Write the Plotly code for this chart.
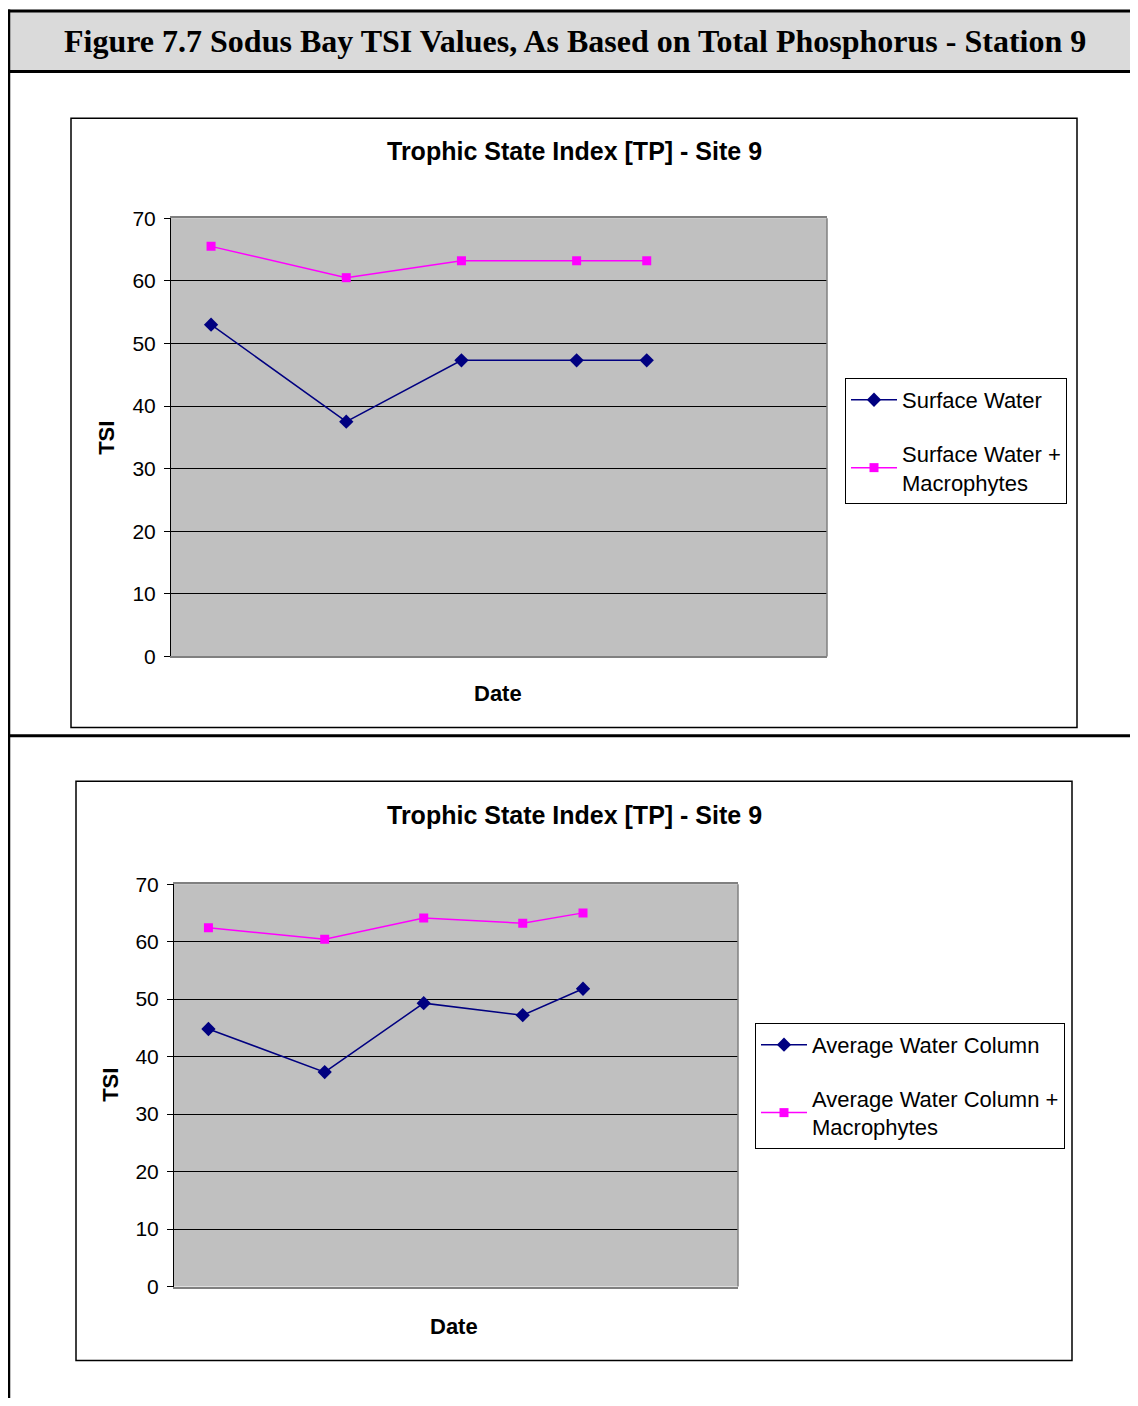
import plotly.graph_objects as go

# the page body has an 8px margin, so the figure is made to fit inside it
PAGE_W, PAGE_H = 1138, 1406
OFF = 8
W, H = PAGE_W - 2 * OFF, PAGE_H - 2 * OFF
# vertical placement correction measured from the rendered page
Y_OFF, Y_SCALE = 18.5, 0.985

# sample dates as day numbers (x axis has no tick labels in the original)
days = [8, 35, 58, 81, 95]

# chart 1 - surface water
surface = [53.0, 37.5, 47.3, 47.3, 47.3]
surface_macro = [65.5, 60.5, 63.2, 63.2, 63.2]

# chart 2 - average water column
avg_col = [44.8, 37.3, 49.3, 47.2, 51.8]
avg_col_macro = [62.4, 60.4, 64.1, 63.2, 65.0]

y_ticks = [0, 10, 20, 30, 40, 50, 60, 70]

NAVY = '#000080'
MAGENTA = '#FF00FF'
SANS = 'Liberation Sans, Arial, sans-serif'


# page pixel -> paper coordinate
def px_x(x):
    return (x - OFF) / W


def px_y(y):
    return 1 - ((y - Y_OFF) / Y_SCALE) / H


fig = go.Figure()

fig.add_trace(go.Scatter(x=days, y=surface, name='Surface Water',
                         mode='lines+markers', xaxis='x', yaxis='y',
                         line=dict(color=NAVY, width=1.5),
                         marker=dict(symbol='diamond', size=11, color=NAVY),
                         legend='legend', legendgroup='a'))
fig.add_trace(go.Scatter(x=days, y=surface_macro, name='Surface Water +<br>Macrophytes',
                         mode='lines+markers', xaxis='x', yaxis='y',
                         line=dict(color=MAGENTA, width=1.5),
                         marker=dict(symbol='square', size=9, color=MAGENTA),
                         legend='legend', legendgroup='b'))
fig.add_trace(go.Scatter(x=days, y=avg_col, name='Average Water Column',
                         mode='lines+markers', xaxis='x2', yaxis='y2',
                         line=dict(color=NAVY, width=1.5),
                         marker=dict(symbol='diamond', size=11, color=NAVY),
                         legend='legend2', legendgroup='c'))
fig.add_trace(go.Scatter(x=days, y=avg_col_macro, name='Average Water Column +<br>Macrophytes',
                         mode='lines+markers', xaxis='x2', yaxis='y2',
                         line=dict(color=MAGENTA, width=1.5),
                         marker=dict(symbol='square', size=9, color=MAGENTA),
                         legend='legend2', legendgroup='d'))

xax = dict(range=[0, 131], showticklabels=False, ticks='', showgrid=False,
           zeroline=False, showline=True, linecolor='#808080', linewidth=1.5,
           mirror=True, fixedrange=True)
yax = dict(range=[0, 70], tickvals=y_ticks, ticks='outside', ticklen=6,
           tickcolor='black', showgrid=True, gridcolor='black', gridwidth=1,
           zeroline=False, showline=True, linecolor='black', linewidth=1,
           tickfont=dict(family=SANS, size=21, color='black'),
           ticklabelstandoff=4, fixedrange=True)

# plot areas (pixel boxes from the original)
p1 = (171, 217, 827, 656)
p2 = (174, 884, 738, 1287)

legend_style = dict(xanchor='left', yanchor='top', bgcolor='white',
                    bordercolor='black', borderwidth=1,
                    font=dict(family=SANS, size=22, color='black'),
                    tracegroupgap=22, itemwidth=46)

fig.update_layout(
    width=W, height=H,
    margin=dict(l=0, r=0, t=0, b=0),
    paper_bgcolor='white', plot_bgcolor='#C0C0C0',
    showlegend=True,
    xaxis=dict(xax, domain=[px_x(p1[0]), px_x(p1[2])], anchor='y'),
    yaxis=dict(yax, domain=[px_y(p1[3]), px_y(p1[1])], anchor='x'),
    xaxis2=dict(xax, domain=[px_x(p2[0]), px_x(p2[2])], anchor='y2'),
    yaxis2=dict(yax, domain=[px_y(p2[3]), px_y(p2[1])], anchor='x2'),
    legend=dict(legend_style, x=px_x(845), y=px_y(377)),
    legend2=dict(legend_style, x=px_x(755), y=px_y(1023)),
)

shapes = []
# header band (top edge kept inside the visible page area)
shapes.append(dict(type='rect', xref='paper', yref='paper',
                   x0=px_x(7), x1=px_x(1145), y0=px_y(70), y1=px_y(9.5),
                   fillcolor='#DADADA', line=dict(color='black', width=3),
                   layer='below'))
# left page rule and separator
shapes.append(dict(type='line', xref='paper', yref='paper',
                   x0=px_x(8.5), x1=px_x(8.5), y0=px_y(1415), y1=px_y(8),
                   line=dict(color='black', width=3.5)))
shapes.append(dict(type='line', xref='paper', yref='paper',
                   x0=px_x(7), x1=px_x(1145), y0=px_y(735.5), y1=px_y(735.5),
                   line=dict(color='black', width=3)))
# chart boxes
shapes.append(dict(type='rect', xref='paper', yref='paper',
                   x0=px_x(71), x1=px_x(1077), y0=px_y(727), y1=px_y(117),
                   line=dict(color='black', width=1.5), layer='below'))
shapes.append(dict(type='rect', xref='paper', yref='paper',
                   x0=px_x(76), x1=px_x(1072), y0=px_y(1361), y1=px_y(781),
                   line=dict(color='black', width=1.5), layer='below'))
# grey right edge of each plot area
for xr, yr in (('x', 'y'), ('x2', 'y2')):
    shapes.append(dict(type='line', xref=xr + ' domain', yref=yr + ' domain',
                       x0=1, x1=1, y0=0, y1=1,
                       line=dict(color='#808080', width=1.5)))
fig.update_layout(shapes=shapes)

annotations = [
    dict(text='<b>Figure 7.7 Sodus Bay TSI Values, As Based on Total Phosphorus - Station 9</b>',
         x=px_x(575), y=px_y(40), font=dict(family='Liberation Serif, Times New Roman, serif', size=32, color='black')),
    dict(text='<b>Trophic State Index [TP] - Site 9</b>', x=px_x(574), y=px_y(150),
         font=dict(family=SANS, size=25, color='black')),
    dict(text='<b>Trophic State Index [TP] - Site 9</b>', x=px_x(574), y=px_y(815),
         font=dict(family=SANS, size=25, color='black')),
    dict(text='<b>TSI</b>', x=px_x(107), y=px_y(437), textangle=-90,
         font=dict(family=SANS, size=22, color='black')),
    dict(text='<b>TSI</b>', x=px_x(111), y=px_y(1085), textangle=-90,
         font=dict(family=SANS, size=22, color='black')),
    dict(text='<b>Date</b>', x=px_x(498), y=px_y(693),
         font=dict(family=SANS, size=22, color='black')),
    dict(text='<b>Date</b>', x=px_x(454), y=px_y(1327),
         font=dict(family=SANS, size=22, color='black')),
]
for a in annotations:
    a.update(xref='paper', yref='paper', showarrow=False,
             xanchor='center', yanchor='middle')
fig.update_layout(annotations=annotations)

fig.write_html("out.html")
